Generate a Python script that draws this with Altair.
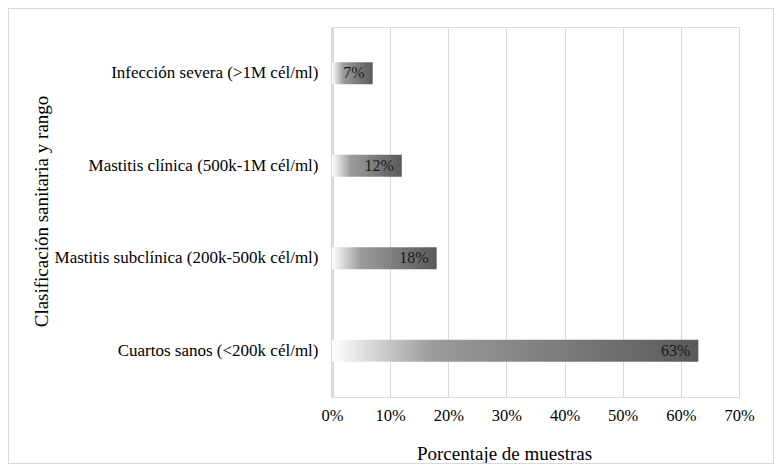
import altair as alt
import pandas as pd

categories = [
    "Infección severa (>1M cél/ml)",
    "Mastitis clínica (500k-1M cél/ml)",
    "Mastitis subclínica (200k-500k cél/ml)",
    "Cuartos sanos (<200k cél/ml)",
]
values = [0.07, 0.12, 0.18, 0.63]
labels = ["7%", "12%", "18%", "63%"]

df = pd.DataFrame({"cat": categories, "val": values, "lab": labels})

W, H = 407, 370
PL, PT = 324, 19
PR = 766 - PL - W
PB = 456 - PT - H
FONT = "Liberation Serif"

grad = alt.LinearGradient(
    gradient="linear",
    x1=0, x2=1, y1=0, y2=0,
    stops=[
        alt.GradientStop(color="#ffffff", offset=0),
        alt.GradientStop(color="#9c9c9c", offset=0.27),
        alt.GradientStop(color="#595959", offset=1),
    ],
)

y_enc = alt.Y(
    "cat:N",
    sort=categories,
    scale=alt.Scale(paddingInner=0.76, paddingOuter=0.38),
    axis=alt.Axis(
        title="Clasificación sanitaria y rango",
        titleFont=FONT, titleFontSize=19, titleFontWeight="normal", titleColor="#000000",
        titleX=-285, titleY=184, titleAngle=270, titleBaseline="alphabetic",
        labelFont=FONT, labelFontSize=17, labelColor="#000000", labelPadding=14,
        labelLimit=400,
        ticks=False, domainColor="#d9d9d9", domainWidth=3, grid=False,
    ),
)

x_enc = alt.X(
    "val:Q",
    scale=alt.Scale(domain=[0, 0.7], nice=False),
    axis=alt.Axis(
        format=".0%", values=[0, 0.1, 0.2, 0.3, 0.4, 0.5, 0.6, 0.7],
        title="Porcentaje de muestras",
        titleFont=FONT, titleFontSize=19, titleFontWeight="normal", titleColor="#000000",
        titleX=172, titleY=56, titleBaseline="middle",
        labelFont=FONT, labelFontSize=16.5, labelColor="#000000", labelPadding=10,
        labelFlush=False,
        ticks=False, domain=False, grid=True, gridColor="#d9d9d9", gridWidth=1,
    ),
)

bars = alt.Chart(df).mark_bar(color=grad).encode(x=x_enc, y=y_enc)

text = alt.Chart(df).mark_text(
    align="right", baseline="middle", dx=-8, font=FONT, fontSize=16, color="#1a1a1a"
).encode(x="val:Q", y=alt.Y("cat:N", sort=categories), text="lab:N")

border = alt.Chart(df).mark_rect(
    fill=None, stroke="#d9d9d9", strokeWidth=1
).encode(
    x=alt.value(-PL + 0.5), x2=alt.value(W + PR - 0.5),
    y=alt.value(-PT + 0.5), y2=alt.value(H + PB - 0.5),
)

chart = alt.layer(border, bars, text).properties(
    width=W, height=H,
    autosize=alt.AutoSizeParams(type="none"),
    padding={"left": PL, "top": PT, "right": PR, "bottom": PB},
).configure_view(stroke=None).configure(background="#ffffff")

chart.save("out.html", embed_options={"renderer": "svg", "actions": False})
